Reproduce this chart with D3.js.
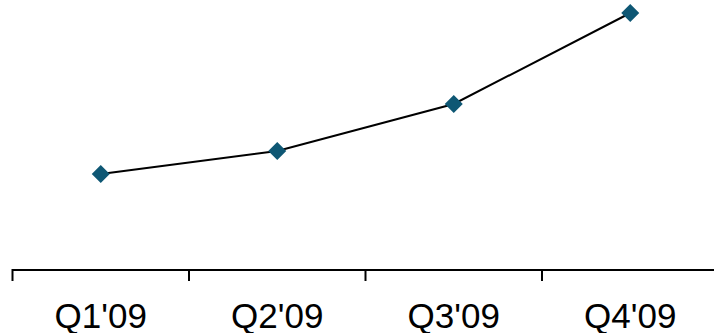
<!DOCTYPE html>
<html>
<head>
<meta charset="utf-8">
<script src="https://cdn.jsdelivr.net/npm/d3@7"></script>
<style>
  html, body { margin: 0; padding: 0; background: #fff; }
  svg { display: block; }
</style>
</head>
<body>
<svg id="chart" width="714" height="333"></svg>
<script>
const quarters = ["Q1'09", "Q2'09", "Q3'09", "Q4'09"];
const values = [96, 119, 166, 257];

const svg = d3.select("#chart");
const axisY = 270;

const x = d3.scaleBand()
  .domain(quarters)
  .range([12.5, 718.5]);

const y = d3.scaleLinear()
  .domain([0, 270])
  .range([axisY, 0]);

// category axis: baseline with ticks at band boundaries
const g = svg.append("g");
g.append("line")
  .attr("x1", x.range()[0]).attr("x2", x.range()[1])
  .attr("y1", axisY).attr("y2", axisY)
  .attr("stroke", "#000").attr("stroke-width", 2);

const edges = quarters.map(q => x(q)).concat([x.range()[1]]);
g.selectAll("line.tick")
  .data(edges)
  .join("line")
  .attr("class", "tick")
  .attr("x1", d => d).attr("x2", d => d)
  .attr("y1", axisY - 1).attr("y2", axisY + 11)
  .attr("stroke", "#000").attr("stroke-width", 2);

g.selectAll("text.label")
  .data(quarters)
  .join("text")
  .attr("class", "label")
  .attr("x", d => x(d) + x.bandwidth() / 2)
  .attr("y", 327.5)
  .attr("text-anchor", "middle")
  .attr("font-family", "Liberation Sans, Arial, sans-serif")
  .attr("font-size", 35)
  .attr("fill", "#000")
  .text(d => d);

// series line
const line = d3.line()
  .x((d, i) => x(quarters[i]) + x.bandwidth() / 2)
  .y(d => y(d));

svg.append("path")
  .datum(values)
  .attr("d", line)
  .attr("fill", "none")
  .attr("stroke", "#000")
  .attr("stroke-width", 2);

// diamond markers
const diamond = d3.symbol().type(d3.symbolSquare).size(162);
svg.selectAll("path.marker")
  .data(values)
  .join("path")
  .attr("class", "marker")
  .attr("d", diamond)
  .attr("transform", (d, i) => `translate(${x(quarters[i]) + x.bandwidth() / 2},${y(d)}) rotate(45)`)
  .attr("fill", "#0e5774");
</script>
</body>
</html>
